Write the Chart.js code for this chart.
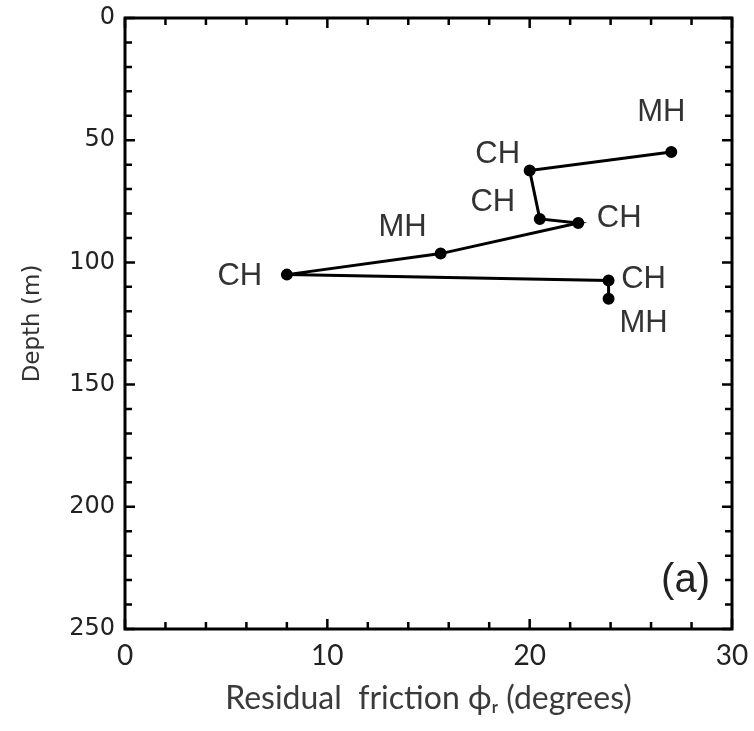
<!DOCTYPE html>
<html>
<head>
<meta charset="utf-8">
<script src="https://cdn.jsdelivr.net/npm/chart.js@4.4.1/dist/chart.umd.min.js"></script>
<style>
  html, body { margin: 0; padding: 0; background: #fff; }
  #wrap { width: 754px; height: 731px; }
</style>
</head>
<body>
<div id="wrap"><canvas id="chart"></canvas></div>
<script>
const friction = [27.0, 20.0, 20.5, 22.4, 15.6, 8.0, 23.9, 23.9];
const depth = [54.8, 62.4, 82.2, 83.9, 96.4, 105.0, 107.4, 114.9];
const soilType = ["MH", "CH", "CH", "CH", "MH", "CH", "CH", "MH"];
const xTicks = [0, 10, 20, 30];
const yTicks = [0, 50, 100, 150, 200, 250];

// label placement next to each point, in px
const labelOffsets = [[-10, -39], [-32, -16], [-47, -16], [41, -5], [-38, -26], [-47, 2], [35, -1], [35, 25]];

const framePlugin = {
  id: "frame",
  afterDraw(chart) {
    const { ctx, chartArea: a, scales: { x, y } } = chart;
    ctx.save();
    ctx.strokeStyle = "#000";
    ctx.lineWidth = 3;
    ctx.strokeRect(a.left, a.top, a.right - a.left, a.bottom - a.top);

    // inward ticks, major + minor
    ctx.lineWidth = 2.5;
    ctx.beginPath();
    for (let v = x.min; v <= x.max; v += 2) {
      const px = x.getPixelForValue(v);
      const len = v % 10 === 0 ? 10 : 7;
      ctx.moveTo(px, a.bottom); ctx.lineTo(px, a.bottom - len);
      ctx.moveTo(px, a.top); ctx.lineTo(px, a.top + len);
    }
    for (let v = y.min; v <= y.max; v += 10) {
      const py = y.getPixelForValue(v);
      const len = v % 50 === 0 ? 10 : 7;
      ctx.moveTo(a.left, py); ctx.lineTo(a.left + len, py);
      ctx.moveTo(a.right, py); ctx.lineTo(a.right - len, py);
    }
    ctx.stroke();

    // soil type labels
    const meta = chart.getDatasetMeta(0);
    ctx.fillStyle = "#333";
    ctx.font = "31px 'Liberation Sans', Arial, sans-serif";
    ctx.textAlign = "center";
    ctx.textBaseline = "middle";
    meta.data.forEach((pt, i) => {
      const [dx, dy] = labelOffsets[i];
      ctx.fillText(soilType[i], pt.x + dx, pt.y + dy);
    });

    ctx.font = "40px 'Liberation Sans', Arial, sans-serif";
    ctx.fillStyle = "#222";
    ctx.textAlign = "right";
    ctx.fillText("(a)", a.right - 22, a.bottom - 48);
    ctx.restore();
  },
};

new Chart(document.getElementById("chart").getContext("2d"), {
  type: "scatter",
  data: {
    datasets: [
      {
        data: friction.map((f, i) => ({ x: f, y: depth[i] })),
        showLine: true,
        borderColor: "#000",
        borderWidth: 3,
        backgroundColor: "#000",
        pointRadius: 4.5,
        pointHoverRadius: 4.5,
      },
    ],
  },
  options: {
    responsive: true,
    maintainAspectRatio: false,
    animation: false,
    layout: { padding: { top: 18, right: 22, left: 0, bottom: 0 } },
    plugins: { legend: { display: false }, tooltip: { enabled: false } },
    scales: {
      x: {
        type: "linear",
        min: 0,
        max: 30,
        afterBuildTicks: (s) => { s.ticks = xTicks.map((v) => ({ value: v })); },
        afterFit: (s) => {
          s.height = 102;
          s.paddingLeft = 0;
          s.paddingRight = 0;
        },
        grid: { display: false, drawTicks: false },
        border: { display: false },
        ticks: { color: "#222", padding: 10, maxRotation: 0, font: { family: "Lato", size: 28 } },
        title: {
          display: true,
          text: "Residual  friction ϕᵣ (degrees)",
          color: "#3a3a3a",
          font: { family: "Lato", size: 32 },
          padding: { top: 0, bottom: 13 },
        },
      },
      y: {
        type: "linear",
        reverse: true,
        min: 0,
        max: 250,
        afterBuildTicks: (s) => { s.ticks = yTicks.map((v) => ({ value: v })); },
        afterFit: (s) => {
          s.width = 125;
          s.paddingTop = 0;
          s.paddingBottom = 0;
        },
        grid: { display: false, drawTicks: false },
        border: { display: false },
        ticks: { color: "#222", padding: 10, font: { family: "DejaVu Sans", size: 24 } },
        title: {
          display: true,
          text: "Depth (m)",
          color: "#333",
          font: { family: "DejaVu Sans", size: 23 },
          padding: { top: 19, bottom: 0 },
        },
      },
    },
  },
  plugins: [framePlugin],
});
</script>
</body>
</html>
